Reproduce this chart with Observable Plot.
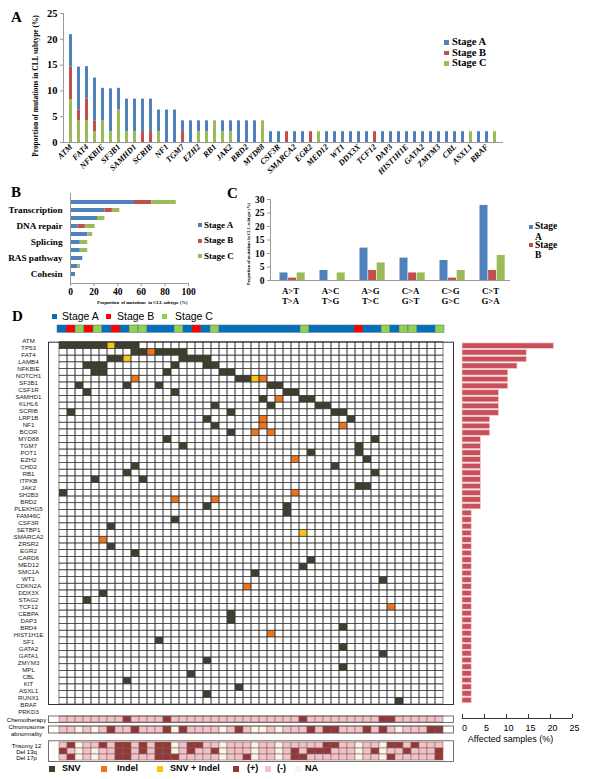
<!DOCTYPE html>
<html><head><meta charset="utf-8">
<script src="https://cdn.jsdelivr.net/npm/d3@7"></script>
<script src="https://cdn.jsdelivr.net/npm/@observablehq/plot@0.6"></script>
<style>
body{margin:0;background:#fff;}
#root{position:relative;width:602px;height:779px;overflow:hidden;background:#fff;}
#root svg{overflow:visible;display:block;}
.t{position:absolute;white-space:nowrap;line-height:1;color:#000;}
.sq{position:absolute;}
</style></head><body><div id="root"></div>
<script>
const SERIF = "'Liberation Serif','Times New Roman',serif";
const SANS = "'Liberation Sans',Arial,sans-serif";
const stageNames = ["Stage A", "Stage B", "Stage C"];
const excelColors = ["#4f81bd", "#c0504d", "#9bbb59"];
const stageBarColors = ["#0070c0", "#ff0000", "#92d050"];
const mutTypes = ["SNV", "Indel", "SNV + Indel"];
const mutColors = ["#403f2b", "#f07518", "#ffc20e"];
const clinTypes = ["(+)", "(-)", "NA"];
const clinColors = ["#953735", "#f2c2c8", "#fcf5e6"];

// ---------- Panel A ----------
const aGenes = ["ATM","TP53","FAT4","LAMB4","NFKBIE","NOTCH1","SF3B1","KLHL6","SAMHD1","CSF1R","SCRIB","LRP1B","NF1","BCOR","TGM7","POT1","EZH2","CHD2","RB1","ITPKB","JAK2","SH2B3","BRD2","PLEKHG5","MYD88","FAM46C","CSF3R","SETBP1","SMARCA2","ZRSR2","EGR2","CARD6","MED12","SMC1A","WT1","CDKN2A","DDX3X","STAG2","TCF12","CEBPA","DAP3","BRD4","HIST1H1E","SF1","GATA2","GATA1","ZMYM3","MPL","CBL","KIT","ASXL1","RUNX1","BRAF","PRKD3"];
const aTickLabels = ["ATM","FAT4","NFKBIE","SF3B1","SAMHD1","SCRIB","NF1","TGM7","EZH2","RB1","JAK2","BRD2","MYD88","CSF3R","SMARCA2","EGR2","MED12","WT1","DDX3X","TCF12","DAP3","HIST1H1E","GATA2","ZMYM3","CBL","ASXL1","BRAF"];
const aStageA = [6.3,8.3,6.3,8.3,6.3,8.3,4.2,6.3,6.3,6.3,6.3,4.2,6.3,6.3,2.1,4.2,2.1,2.1,0,2.1,2.1,4.2,4.2,4.2,0,
  2.1,2.1,0,2.1,2.1,0,0,2.1,2.1,2.1,2.1,2.1,2.1,0,2.1,2.1,2.1,2.1,2.1,2.1,2.1,2.1,2.1,2.1,2.1,0,2.1,2.1,0];
const aStageB = [6.3,2.1,4.2,2.1,0,0,0,0,0,2.1,2.1,0,0,0,2.1,0,0,0,0,0,0,0,0,0,0,
  0,0,2.1,0,0,2.1,0,0,0,0,0,0,0,2.1,0,0,0,0,0,0,0,0,0,0,0,0,0,0,0];
const aStageC = [8.3,4.2,4.2,2.1,4.2,2.1,6.3,2.1,2.1,0,0,2.1,0,0,0,0,2.1,2.1,4.2,2.1,2.1,0,0,0,4.2,
  0,0,0,0,0,0,2.1,0,0,0,0,0,0,0,0,0,0,0,0,0,0,0,0,0,0,2.1,0,0,2.1];
const aYTicks = [0, 5, 10, 15, 20, 25];
const yTitle = "Proportion of mutations in CLL subtype (%)";

// ---------- Panel B ----------
const bTickLabels = ["", "Transcription", "", "DNA repair", "", "Splicing", "", "RAS pathway", "", "Cohesin"];
const bStageA = [54.2, 29.2, 22.9, 6.3, 14.6, 8.3, 8.3, 10.4, 6.3, 4.2];
const bStageB = [14.6, 6.3, 0, 6.3, 0, 0, 0, 0, 0, 0];
const bStageC = [20.8, 6.3, 6.3, 8.3, 4.2, 6.3, 6.3, 0, 2.1, 0];
const bXTicks = [0, 20, 40, 60, 80, 100];

// ---------- Panel C ----------
const cGroups = ["A>T", "A>C", "A>G", "C>A", "C>G", "C>T"];
const cComplements = ["T>A", "T>G", "T>C", "G>T", "G>C", "G>A"];
const cStageA = [2.8, 3.7, 12.0, 8.3, 7.4, 27.8];
const cStageB = [0.9, 0, 3.7, 2.8, 0.9, 3.7];
const cStageC = [2.8, 2.8, 6.5, 2.8, 3.7, 9.3];
const cYTicks = [0, 5, 10, 15, 20, 25, 30];

// ---------- Panel D ----------
const dGenes = ["ATM","TP53","FAT4","LAMB4","NFKBIE","NOTCH1","SF3B1","CSF1R","SAMHD1","KLHL6","SCRIB","LRP1B","NF1","BCOR","MYD88","TGM7","POT1","EZH2","CHD2","RB1","ITPKB","JAK2","SH2B3","BRD2","PLEKHG5","FAM46C","CSF3R","SETBP1","SMARCA2","ZRSR2","EGR2","CARD6","MED12","SMC1A","WT1","CDKN2A","DDX3X","STAG2","TCF12","CEBPA","DAP3","BRD4","HIST1H1E","SF1","GATA2","GATA1","ZMYM3","MPL","CBL","KIT","ASXL1","RUNX1","BRAF","PRKD3"];
const dHist = [20.8,14.6,14.6,12.5,10.4,10.4,10.4,8.3,8.3,8.3,8.3,6.3,6.3,6.3,
  4.2,4.2,4.2,4.2,4.2,4.2,4.2,4.2,4.2,4.2,4.2,
  2.1,2.1,2.1,2.1,2.1,2.1,2.1,2.1,2.1,2.1,2.1,2.1,2.1,2.1,2.1,2.1,2.1,2.1,2.1,2.1,2.1,2.1,2.1,2.1,2.1,2.1,2.1,2.1,2.1];
const histTicks = [0, 5, 10, 15, 20, 25];
const patientCount = 48;
const stagesTop = ["A","B","C","B","C","A","B","A","C","C","A","A","A","C","A","B","A","C","A","A","A","A","A","A","A","A","A","C","A","A","A","A","A","B","A","A","C","A","C","C","A","A","C"];
const snvCells = [
  ["ATM",[0,1,2,3,4,5,7,8,9]],["TP53",[9,10,12,13,14,15]],["FAT4",[6,7,15,16,17,18]],["LAMB4",[3,4,5,14,18,19]],
  ["NFKBIE",[4,5,13,20,21]],["NOTCH1",[22,23]],["SF3B1",[2,8,12,26,27]],["CSF1R",[3,14,28,29]],["SAMHD1",[25,30,31]],
  ["KLHL6",[19,26,32,33]],["SCRIB",[1,21,34,35]],["LRP1B",[18,36]],["NF1",[19]],["BCOR",[21]],["MYD88",[13,39]],
  ["TGM7",[15,37]],["POT1",[31,37]],["EZH2",[38]],["CHD2",[9,34]],["RB1",[8,39]],["ITPKB",[4,10]],["JAK2",[37,38]],
  ["SH2B3",[0]],["PLEKHG5",[18,28]],["FAM46C",[28]],["CSF3R",[14]],["SETBP1",[6]],["EGR2",[6]],["CARD6",[9]],
  ["MED12",[31]],["SMC1A",[30]],["WT1",[24]],["CDKN2A",[40]],["STAG2",[5]],["TCF12",[3]],["DAP3",[21]],["BRD4",[21]],
  ["HIST1H1E",[35]],["GATA2",[12]],["GATA1",[35]],["ZMYM3",[40]],["MPL",[18]],["CBL",[35]],["KIT",[16]],
  ["ASXL1",[8]],["RUNX1",[22]],["BRAF",[18]],["PRKD3",[42]]];
const indelCells = [["TP53",[11]],["NOTCH1",[9,25]],["SAMHD1",[27]],["LRP1B",[25]],["NF1",[25,35]],["BCOR",[24,26]],
  ["EZH2",[29]],["SH2B3",[29]],["BRD2",[14,19]],["ZRSR2",[5]],["DDX3X",[23]],["CEBPA",[41]],["SF1",[26]]];
const bothCells = [["ATM",[6]],["FAT4",[8]],["NOTCH1",[24]],["SMARCA2",[30]]];
const chemoPos = [8, 13, 30, 40, 41], chemoNA = [];
const chromoPos = [6, 9, 13, 15, 22, 31, 33, 34, 38, 40, 46, 47], chromoNA = [2, 4, 14, 20, 24, 25, 27, 42];
const tri12Pos = [1, 5, 7, 8, 10, 12, 13, 16, 17, 33, 34, 41, 42, 44], tri12NA = [2, 14, 20, 24, 27, 37, 40];
const del13qPos = [0, 7, 8, 10, 12, 13, 16, 19, 29, 31, 32, 33, 39, 43, 47], del13qNA = [2, 4, 14, 20, 24, 27, 37, 40];
const del17pPos = [1, 7, 8, 12, 13, 14, 23, 29, 30, 41, 47], del17pNA = [2, 4, 20, 24, 27, 37, 40];

// ---------- helpers ----------
const root = document.getElementById("root");
function place(node, left, top) {
  const w = document.createElement("div");
  w.style.cssText = `position:absolute;left:${left}px;top:${top}px;`;
  w.appendChild(node); root.appendChild(w); return w;
}
function txt(text, left, cy, size, css = "") {
  const d = document.createElement("div"); d.className = "t"; d.textContent = text;
  d.style.cssText = `left:${left}px;top:${cy - size / 2}px;font-size:${size}px;${css}`;
  root.appendChild(d); return d;
}
function sq(left, cy, s, color, css = "") {
  const d = document.createElement("div"); d.className = "sq";
  d.style.cssText = `left:${left}px;top:${cy - s / 2}px;width:${s}px;height:${s}px;background:${color};${css}`;
  root.appendChild(d); return d;
}
const baseStyle = (family, extra = {}) => ({fontFamily: family, background: "transparent", overflow: "visible", ...extra});

// ---------- Panel A plot ----------
const aData = aGenes.flatMap((g, i) => [
  {gene: g, stage: "Stage C", v: aStageC[i]},
  {gene: g, stage: "Stage B", v: aStageB[i]},
  {gene: g, stage: "Stage A", v: aStageA[i]}]);
const aTickSet = new Set(aTickLabels);
place(Plot.plot({
  width: 510, height: 180, marginLeft: 63, marginRight: 7, marginTop: 13, marginBottom: 38,
  style: baseStyle(SERIF, {fontWeight: "bold"}),
  x: {domain: aGenes, paddingInner: 0.58, paddingOuter: 0.2, axis: null, label: null},
  y: {domain: [0, 25], axis: null, label: null},
  color: {domain: stageNames, range: excelColors},
  marks: [
    Plot.barY(aData, {x: "gene", y: "v", fill: "stage"}),
    Plot.ruleY([0], {stroke: "#9a9a9a"}),
    Plot.frame({anchor: "left", stroke: "#9a9a9a"}),
    Plot.axisY({ticks: aYTicks, tickSize: 3, tickPadding: 3, fontSize: 10.5, stroke: "#9a9a9a", label: null}),
    Plot.axisX({tickRotate: -45, tickSize: 0, tickPadding: 3, fontSize: 8.2, fontStyle: "italic", label: null,
      tickFormat: d => aTickSet.has(d) ? d : ""}),
    Plot.text([yTitle], {text: d => d, frameAnchor: "left", textAnchor: "middle", rotate: -90, dx: -28, dy: 8, fontSize: 7.4})
  ]
}), 0, 0);
txt("A", 11, 17, 15, `font-family:${SERIF};font-weight:bold;`);
stageNames.forEach((s, i) => {
  const cy = [42.5, 53, 63.5][i];
  sq(444, cy, 4.5, excelColors[i]);
  txt(s, 452, cy, 10.5, `font-family:${SERIF};font-weight:bold;`);
});

// ---------- Panel B plot ----------
const bData = bTickLabels.flatMap((_, i) => [
  {id: i, stage: "Stage A", v: bStageA[i]},
  {id: i, stage: "Stage B", v: bStageB[i]},
  {id: i, stage: "Stage C", v: bStageC[i]}]);
place(Plot.plot({
  width: 240, height: 130, marginLeft: 70, marginRight: 52, marginTop: 8, marginBottom: 32,
  style: baseStyle(SERIF, {fontWeight: "bold"}),
  x: {domain: [0, 100], axis: null, label: null},
  y: {domain: d3.range(bTickLabels.length), padding: 0.55, axis: null, label: null},
  color: {domain: stageNames, range: excelColors},
  marks: [
    Plot.barX(bData, {y: "id", x: "v", fill: "stage"}),
    Plot.ruleX([0], {stroke: "#9a9a9a"}),
    Plot.frame({anchor: "bottom", stroke: "#9a9a9a"}),
    Plot.axisY({tickSize: 0, tickPadding: 8, fontSize: 9.2, label: null, tickFormat: i => bTickLabels[i]}),
    Plot.axisX({ticks: bXTicks, tickSize: 3, tickPadding: 2, fontSize: 9.5, stroke: "#9a9a9a", label: null}),
    Plot.text(["Proportion  of mutations  in CLL subtype (%)"], {text: d => d, frameAnchor: "bottom", textAnchor: "middle", dy: 20, dx: 13, fontSize: 4.6})
  ]
}), 0, 185);
txt("B", 11, 192, 15, `font-family:${SERIF};font-weight:bold;`);
stageNames.forEach((s, i) => {
  const cy = [225, 240.5, 256][i];
  sq(197.5, cy, 4, excelColors[i]);
  txt(s, 204, cy, 9, `font-family:${SERIF};font-weight:bold;`);
});

// ---------- Panel C plot ----------
const cSeries = [cStageA, cStageB, cStageC];
place(Plot.plot({
  width: 382, height: 125, marginLeft: 50, marginRight: 92, marginTop: 14, marginBottom: 30,
  style: baseStyle(SERIF, {fontWeight: "bold"}),
  x: {domain: cGroups, paddingInner: 0.8, paddingOuter: 0.4, axis: null, label: null},
  y: {domain: [0, 30], axis: null, label: null},
  marks: [
    ...cSeries.map((vals, k) => Plot.barY(cGroups.map((g, i) => ({g, v: vals[i]})),
      {x: "g", y: "v", fill: excelColors[k], dx: -6.5 + k * 8.6})),
    Plot.ruleY([0], {stroke: "#9a9a9a"}),
    Plot.frame({anchor: "left", stroke: "#9a9a9a"}),
    Plot.axisY({ticks: cYTicks, tickSize: 3, tickPadding: 3, fontSize: 9.5, stroke: "#9a9a9a", label: null}),
    Plot.axisX({tickSize: 0, tickPadding: 6, fontSize: 8.8, lineHeight: 1.15, label: null,
      tickFormat: g => g + "\n" + cComplements[cGroups.indexOf(g)]}),
    Plot.text([yTitle], {text: d => d, frameAnchor: "left", textAnchor: "middle", rotate: -90, dx: -22, dy: 4, fontSize: 4.3})
  ]
}), 220, 185);
txt("C", 227, 193, 15, `font-family:${SERIF};font-weight:bold;`);
[["Stage A", 226.5], ["Stage B", 245]].forEach(([s, cy], i) => {
  sq(529, cy, 4, excelColors[i]);
  const d = txt(s, 535, cy, 9.5, `font-family:${SERIF};font-weight:bold;white-space:normal;width:30px;line-height:10.4px;`);
  d.style.top = (cy - 5.2) + "px";
});

// ---------- Panel D ----------
txt("D", 12, 316, 15, `font-family:${SERIF};font-weight:bold;`);
[["Stage A", 52, 62], ["Stage B", 106, 117], ["Stage C", 162, 175]].forEach(([s, sx, tx], i) => {
  sq(sx, 316.5, 5, stageBarColors[i]);
  txt(s, tx, 316, 10.5, `font-family:${SANS};`);
});

// stage bar
place(Plot.plot({
  width: 460, height: 14, marginLeft: 48, marginRight: 7, marginTop: 3, marginBottom: 3.7,
  style: baseStyle(SANS),
  x: {domain: d3.range(stagesTop.length), padding: 0, axis: null, label: null},
  color: {domain: ["A", "B", "C"], range: stageBarColors},
  marks: [Plot.cell(stagesTop.map((s, i) => ({i, s})), {x: "i", fill: "s", stroke: "#4d6478", strokeWidth: 0.5})]
}), 0, 322);

// mutation grid
const patients = d3.range(patientCount);
const allCells = dGenes.flatMap(g => patients.map(p => ({g, p})));
const mutData = [[snvCells, "SNV"], [indelCells, "Indel"], [bothCells, "SNV + Indel"]]
  .flatMap(([list, type]) => list.flatMap(([g, ps]) => ps.map(p => ({g, p, type}))));
place(Plot.plot({
  width: 460, height: 370, marginLeft: 48, marginRight: 7, marginTop: 5.7, marginBottom: 2,
  style: baseStyle(SANS),
  x: {domain: patients, padding: 0, axis: null, label: null},
  y: {domain: dGenes, padding: 0, axis: null, label: null},
  color: {domain: mutTypes, range: mutColors},
  marks: [
    Plot.cell(mutData, {x: "p", y: "g", fill: "type"}),
    Plot.cell(allCells, {x: "p", y: "g", fill: "none", stroke: "#3c3c3c", strokeWidth: 0.65}),
    Plot.frame({stroke: "#333", strokeWidth: 1})
  ]
}), 0, 336);

// gene labels (slightly looser spacing than the grid, as in the figure)
place(Plot.plot({
  width: 48, height: 378, marginLeft: 14, marginRight: 6, marginTop: 4.9, marginBottom: 2.3,
  style: baseStyle(SANS),
  y: {domain: dGenes, padding: 0, axis: null, label: null},
  marks: [Plot.text(dGenes, {y: d => d, text: d => d, fontSize: 6.2, fill: "#222"})]
}), 0, 336);

// affected samples histogram
place(Plot.plot({
  width: 147, height: 370, marginLeft: 7, marginRight: 30, marginTop: 5.7, marginBottom: 2,
  style: baseStyle(SANS),
  x: {domain: [0, 25], axis: null, label: null},
  y: {domain: dGenes, padding: 0.18, axis: null, label: null},
  marks: [Plot.barX(dGenes.map((g, i) => ({g, v: dHist[i]})), {x: "v", y: "g", fill: "#c8505a", stroke: "#f4d0d3", strokeWidth: 0.7})]
}), 455, 336);
place(Plot.plot({
  width: 147, height: 36, marginLeft: 7, marginRight: 30, marginTop: 2, marginBottom: 30,
  style: baseStyle(SANS),
  x: {domain: [0, 25], axis: null, label: null},
  y: {domain: [0, 1], axis: null, label: null},
  marks: [
    Plot.ruleY([0], {stroke: "#333"}),
    Plot.ruleX(histTicks, {y1: 0, y2: 1, stroke: "#333"}),
    Plot.axisX({ticks: histTicks, tickSize: 0, tickPadding: 6, fontSize: 9, dx: 2, label: null}),
    Plot.text(["Affected samples (%)"], {text: d => d, frameAnchor: "bottom", textAnchor: "middle", dy: 23, dx: -7, fontSize: 9})
  ]
}), 455, 712);

// clinical rows
function clinStatus(pos, na) {
  return patients.map(p => pos.includes(p) ? "(+)" : na.includes(p) ? "NA" : "(-)");
}
function clinical(rows, top, height, mt, mb) {
  const data = rows.flatMap(r => clinStatus(r.pos, r.na).map((s, p) => ({row: r.name, p, s})));
  place(Plot.plot({
    width: 460, height, marginLeft: 48, marginRight: 7, marginTop: mt, marginBottom: mb,
    style: baseStyle(SANS),
    x: {domain: patients, padding: 0, axis: null, label: null},
    y: {domain: rows.map(r => r.name), padding: 0, axis: null, label: null},
    color: {domain: clinTypes, range: clinColors},
    marks: [
      Plot.cell(data, {x: "p", y: "row", fill: "s", stroke: "#7b6464", strokeWidth: 0.55}),
      Plot.frame({stroke: "#5a4a4a", strokeWidth: 0.8}),
      Plot.axisY({tickSize: 0, tickPadding: 22, textAnchor: "middle", fontSize: 6, lineHeight: 1.25, label: null,
        tickFormat: d => rows.find(r => r.name === d).label})
    ]
  }), 0, top);
}
clinical([{name: "Chemotherapy", label: "Chemotherapy", pos: chemoPos, na: chemoNA}], 712, 12, 3.5, 2);
clinical([{name: "Chromosome abnormality", label: "Chromosome\nabnormality", pos: chromoPos, na: chromoNA}], 722, 13, 3.5, 2.5);
clinical([
  {name: "Trisomy 12", label: "Trisomy 12", pos: tri12Pos, na: tri12NA},
  {name: "Del 13q", label: "Del 13q", pos: del13qPos, na: del13qNA},
  {name: "Del 17p", label: "Del 17p", pos: del17pPos, na: del17pNA}], 736, 27, 4.3, 2);

// bottom legend
[["SNV", mutColors[0], 49, 62], ["Indel", mutColors[1], 101, 117], ["SNV + Indel", mutColors[2], 157, 170],
 ["(+)", clinColors[0], 233, 247], ["(-)", clinColors[1], 265, 277], ["NA", clinColors[2], 295, 305]]
 .forEach(([s, c, sx, tx]) => {
  sq(sx, 768.5, 6, c);
  txt(s, tx, 768.5, 9, `font-family:${SANS};font-weight:bold;`);
});
</script></body></html>
